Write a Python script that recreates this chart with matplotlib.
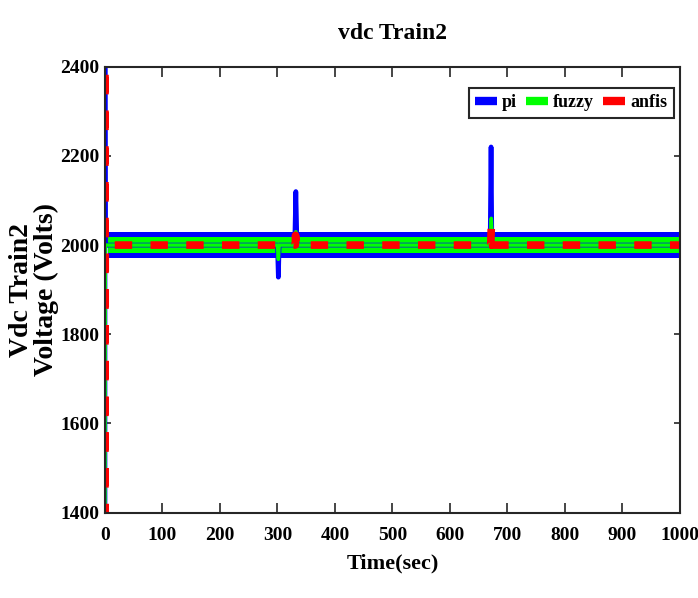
import matplotlib
matplotlib.use("Agg")
import matplotlib.pyplot as plt

# time (s) / dc link voltage (V) key points for each controller
pi_t = [0, 0, 0.5, 300, 301.6, 303, 330, 332, 334, 670, 671.6, 673, 1000]
pi_v = [1400, 2400, 2000, 2000, 1928, 2000, 2000, 2120, 2000, 2000, 2220, 2000, 2000]

fuzzy_t = [0, 0.5, 300, 301.6, 303, 330, 332, 334, 670, 672, 674, 1000]
fuzzy_v = [1400, 2000, 2000, 1968, 2000, 2000, 2030, 2000, 2000, 2060, 2000, 2000]

anfis_t = [0, 0, 0, 0.5, 331, 331.5, 333, 671, 672, 674, 1000]
anfis_v = [1400, 2400, 1400, 2000, 2000, 2022, 2000, 2000, 2040, 2000, 2000]

# steady-state ripple band (start/end time, lower/upper voltage)
band_t = [5, 1000]
pi_band = [1972, 2029]
fuzzy_band = [1982, 2018]

xticks = list(range(0, 1001, 100))
yticks = list(range(1400, 2401, 200))

font = 'Liberation Serif'
plt.rcParams['font.family'] = font
plt.rcParams['font.weight'] = 'bold'

fig = plt.figure(figsize=(6.98, 5.98), dpi=100)
ax = fig.add_axes([0.1504, 0.1427, 0.8236, 0.7458])

ax.fill_between(band_t, pi_band[0], pi_band[1], color='#0000ff', lw=0)
ax.plot(pi_t, pi_v, color='#0000ff', lw=3.4, label='pi', solid_capstyle='round')
ax.fill_between(band_t, fuzzy_band[0], fuzzy_band[1], color='#00ff00', lw=0)
ax.plot(fuzzy_t, fuzzy_v, color='#00ff00', lw=2.5, label='fuzzy', solid_capstyle='round')
ax.plot(anfis_t, anfis_v, color='#ff0000', lw=5.5, label='anfis',
        linestyle=(1.4, (2.28, 2.4)), dash_capstyle='butt')

ax.set_xlim(0, 1000)
ax.set_ylim(1400, 2400)
ax.set_xticks(xticks)
ax.set_yticks(yticks)

for s in ax.spines.values():
    s.set_color('#262626')
    s.set_linewidth(1.5)
ax.tick_params(axis='both', direction='in', top=True, right=True,
               color='#262626', width=1.2, labelsize=14)
ax.tick_params(axis='x', length=7, pad=10)
ax.tick_params(axis='y', length=4.5, pad=4)

ax.set_title('vdc Train2', fontsize=17, fontweight='bold', pad=20)
ax.set_xlabel('Time(sec)', fontsize=16, fontweight='bold', labelpad=7)
ax.set_ylabel('Vdc Train2\nVoltage (Volts)', fontsize=20, fontweight='bold',
              linespacing=1.0, labelpad=1)

leg = ax.legend(loc='upper right', bbox_to_anchor=(0.9896, 0.952), ncol=3,
                fontsize=13, frameon=True, fancybox=False, framealpha=1,
                edgecolor='#262626', handlelength=1.2, handletextpad=0.3,
                columnspacing=0.5, borderpad=0.35, borderaxespad=0)
leg.get_frame().set_linewidth(1.5)
for h in leg.get_lines():
    h.set_linewidth(6)
    h.set_linestyle('-')
    h.set_solid_capstyle('butt')

fig.savefig('out.png', dpi=100)
